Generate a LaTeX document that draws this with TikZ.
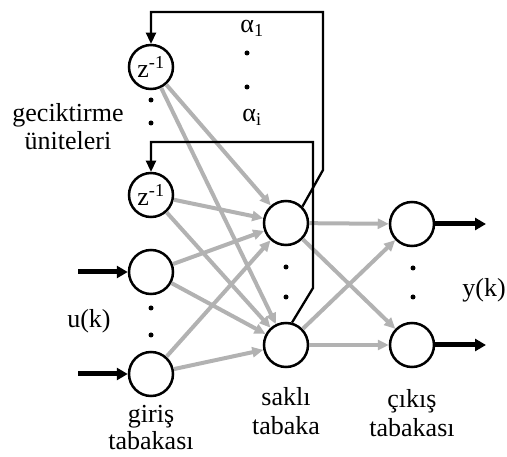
\documentclass[tikz,border=0pt]{standalone}
\usepackage{fontspec}
\setmainfont{Liberation Serif}
\usetikzlibrary{arrows.meta}
\begin{document}
\begin{tikzpicture}[x=1pt,y=-1pt,
 neuron/.style={circle,draw,fill=white,line width=2.5pt,minimum size=44pt,inner sep=0pt,font=\fontsize{26}{28}\selectfont},
 conn/.style={draw=gray!60,line width=4pt,-{Triangle[length=11pt,width=10pt]}},
 fb/.style={draw=black,line width=2.3pt,-{Triangle[length=11pt,width=10pt]}},
 io/.style={line width=5pt,-{Triangle[length=11pt,width=12pt]}},
 dotnode/.style={circle,fill,inner sep=0pt,minimum size=5pt},
 lbl/.style={font=\fontsize{26}{29}\selectfont,anchor=base,inner sep=0pt}
]
\useasboundingbox (0,0) rectangle (507,457);

% nodes
\node[neuron] (d1) at (151,67) {z\textsuperscript{-1}};
\node[neuron] (d2) at (151,195) {z\textsuperscript{-1}};
\node[neuron] (i1) at (151,272) {};
\node[neuron] (i2) at (151,374) {};
\node[neuron] (h1) at (286,223) {};
\node[neuron] (h2) at (286,345) {};
\node[neuron] (o1) at (412,224) {};
\node[neuron] (o2) at (412,345) {};

% gray connections
\foreach \s in {d1,d2,i1,i2}{
  \draw[conn] (\s) -- (h1);
  \draw[conn] (\s) -- (h2);
}
\foreach \s in {h1,h2}{
  \draw[conn] (\s) -- (o1);
  \draw[conn] (\s) -- (o2);
}

% feedback loops
\draw[fb] (h1.45) -- (323,170) -- (323,12) -- (151,12) -- (d1.north);
\draw[fb] (h2.75) -- (313,288) -- (313,142) -- (151,142) -- (d2.north);

% inputs and outputs
\coordinate (u1) at (78,272);
\coordinate (u2) at (78,374);
\coordinate (y1) at (486,224);
\coordinate (y2) at (486,345);
\draw[io] (u1) -- (i1.west);
\draw[io] (u2) -- (i2.west);
\draw[io] (o1.east) -- (y1);
\draw[io] (o2.east) -- (y2);

% dots
\foreach \p in {(151,100),(151,123),(151,308),(151,335),(286,267),(286,297),(413,268),(413,297),(247,53),(247,87)}
  \node[dotnode] at \p {};

% labels
\node[lbl] (a1) at (252,33) {α\textsubscript{1}};
\node[lbl] (ai) at (252,122) {α\textsubscript{i}};
\node[lbl] (g1) at (68,122) {geciktirme};
\node[lbl] (g2) at (68,150) {üniteleri};
\node[lbl] (uk) at (89,328) {u(k)};
\node[lbl] (yk) at (484,297) {y(k)};
\node[lbl] (l1) at (151,423) {giriş};
\node[lbl] (l2) at (151,450) {tabakası};
\node[lbl] (l3) at (286,406) {saklı};
\node[lbl] (l4) at (286,435) {tabaka};
\node[lbl] (l5) at (412,408) {çıkış};
\node[lbl] (l6) at (412,437) {tabakası};
\end{tikzpicture}
\end{document}
